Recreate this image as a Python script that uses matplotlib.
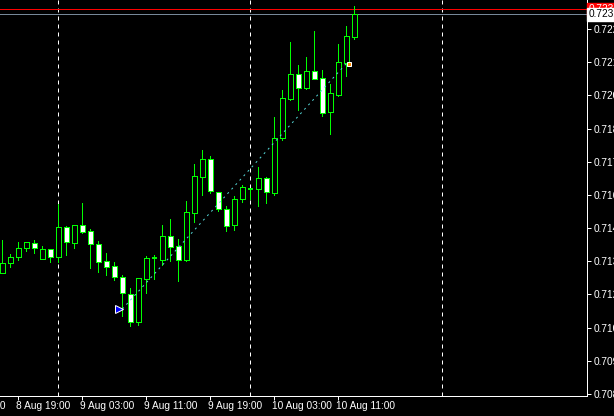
import numpy as np
import pandas as pd
import matplotlib
matplotlib.use('Agg')
import matplotlib.pyplot as plt
from matplotlib import transforms

plt.rcParams['font.family'] = ['Liberation Sans', 'DejaVu Sans']

# hourly bars, first bar 8 Aug 17:00
start = pd.Timestamp('2016-08-08 17:00')
opens = [0.71310, 0.71347, 0.71371, 0.71406, 0.71425, 0.71365, 0.71402, 0.71373, 0.71490, 0.71428,
         0.71496, 0.71472, 0.71421, 0.71355, 0.71337, 0.71292, 0.71226, 0.71118, 0.71287, 0.71367,
         0.71360, 0.71453, 0.71414, 0.71360, 0.71545, 0.71686, 0.71755, 0.71628, 0.71559, 0.71498,
         0.71598, 0.71638, 0.71637, 0.71680, 0.71621, 0.71837, 0.71991, 0.72089, 0.72035, 0.72101,
         0.72072, 0.71941, 0.72007, 0.72133, 0.72235]
highs = [0.71438, 0.71384, 0.71431, 0.71431, 0.71438, 0.71415, 0.71402, 0.71579, 0.71493, 0.71497,
         0.71582, 0.71480, 0.71436, 0.71386, 0.71352, 0.71301, 0.71252, 0.71290, 0.71376, 0.71380,
         0.71497, 0.71519, 0.71441, 0.71592, 0.71736, 0.71791, 0.71768, 0.71628, 0.71572, 0.71611,
         0.71654, 0.71643, 0.71723, 0.71684, 0.71920, 0.72026, 0.72215, 0.72124, 0.72157, 0.72257,
         0.72104, 0.72050, 0.72206, 0.72277, 0.72355]
lows = [0.71308, 0.71331, 0.71360, 0.71397, 0.71389, 0.71365, 0.71353, 0.71353, 0.71380, 0.71408,
        0.71467, 0.71330, 0.71314, 0.71301, 0.71282, 0.71141, 0.71103, 0.71105, 0.71232, 0.71284,
        0.71340, 0.71357, 0.71279, 0.71357, 0.71510, 0.71615, 0.71621, 0.71552, 0.71475, 0.71478,
        0.71588, 0.71599, 0.71573, 0.71582, 0.71615, 0.71830, 0.71987, 0.71948, 0.72030, 0.72068,
        0.71925, 0.71854, 0.72004, 0.72081, 0.72226]
closes = [0.71347, 0.71371, 0.71406, 0.71429, 0.71406, 0.71402, 0.71373, 0.71488, 0.71432, 0.71496,
          0.71471, 0.71421, 0.71353, 0.71334, 0.71295, 0.71230, 0.71118, 0.71288, 0.71367, 0.71367,
          0.71453, 0.71412, 0.71361, 0.71547, 0.71689, 0.71755, 0.71632, 0.71559, 0.71494, 0.71598,
          0.71645, 0.71638, 0.71680, 0.71625, 0.71837, 0.71994, 0.72089, 0.72035, 0.72101, 0.72070,
          0.71937, 0.72013, 0.72135, 0.72238, 0.72323]
ask = 0.72342
bid = closes[-1]
price_ticks = [0.70835, 0.70965, 0.71095, 0.71225, 0.71355, 0.71485,
               0.71615, 0.71745, 0.71875, 0.72005, 0.72135, 0.72265]
trade_open = (15, 0.71168)
trade_close = (43, 0.72130)

o = np.array(opens); h = np.array(highs); l = np.array(lows); c = np.array(closes)
x = np.arange(len(o))
green = '#00ff00'
fs = 7.3
px = 0.72  # one pixel in points

fig = plt.figure(figsize=(6.14, 4.16), dpi=100, facecolor='black')
ax = fig.add_axes([0, 20 / 416, 587 / 614, 396 / 416])
ax.set_facecolor('black')
ax.set_xlim(-0.29, 73.09)
ax.set_ylim(0.70827, 0.72379)

# day separators
xmax = 74
for i in range(-10, xmax):
    if (start + pd.Timedelta(hours=i)).hour == 0:
        ax.axvline(i, color='white', lw=px, ls=(0, (4, 4)), zorder=1)

ax.axhline(ask, color='red', lw=px, zorder=1)
ax.axhline(bid, color='#778899', lw=px, zorder=1)

# candles
ax.vlines(x, l, h, color=green, lw=px, antialiased=False, zorder=2)
body_lo = np.minimum(o, c)
body_hi = np.maximum(o, c)
face = np.where(c > o, 'black', 'white')
nz = body_hi > body_lo
ax.bar(x[nz], (body_hi - body_lo)[nz], bottom=body_lo[nz], width=0.6,
       color=face[nz], edgecolor=green, linewidth=px, antialiased=False, zorder=3)
ax.hlines(o[~nz], x[~nz] - 0.3, x[~nz] + 0.3, color=green, lw=1.4, zorder=3)

# trade
ax.plot([trade_open[0], trade_close[0]], [trade_open[1], trade_close[1]],
        color='#55d6d6', lw=px, ls=(0, (2, 4)), zorder=4)
ax.plot(trade_open[0] - 0.45, trade_open[1], marker='>', ms=6, color='#0000ff',
        mec='white', mew=px, zorder=5)
ax.plot(trade_close[0] + 0.35, trade_close[1], marker='s', ms=3, color='#ff8c00',
        mec='white', mew=px, zorder=5)

# axes style
for s in ['top', 'left']:
    ax.spines[s].set_visible(False)
for s in ['right', 'bottom']:
    ax.spines[s].set_color('white')
    ax.spines[s].set_linewidth(px)

ax.yaxis.tick_right()
ax.set_yticks(price_ticks)
ax.set_yticklabels([f'{p:.5f}' for p in price_ticks])
ax.tick_params(axis='y', colors='white', length=3, width=px, pad=2, labelsize=fs)

tick_idx = [i for i in range(-6, len(o), 8)]
ax.set_xticks([i for i in tick_idx if i >= 0])
ax.set_xticklabels([])
ax.tick_params(axis='x', colors='white', length=3, width=px)

trans = transforms.blended_transform_factory(ax.transData, ax.transAxes)
trans = transforms.offset_copy(trans, fig=fig, x=-2, y=-5, units='dots')
for i in tick_idx:
    t = start + pd.Timedelta(hours=i)
    ax.text(i, 0, f'{t.day} {t:%b %H:%M}', transform=trans, ha='left', va='top',
            color='white', fontsize=fs, clip_on=False)

# price boxes on the right
ptrans = transforms.blended_transform_factory(fig.transFigure, ax.transData)
ax.text(589 / 614, ask, f'{ask:.5f}', transform=ptrans, ha='left', va='center',
        fontsize=fs, color='white', clip_on=False,
        bbox=dict(boxstyle='square,pad=0.15', fc='red', ec='red'))
ax.text(589 / 614, bid, f'{bid:.5f}', transform=ptrans, ha='left', va='center',
        fontsize=fs, color='black', clip_on=False,
        bbox=dict(boxstyle='square,pad=0.15', fc='white', ec='white'))

fig.savefig('out.png', dpi=100, facecolor='black')
